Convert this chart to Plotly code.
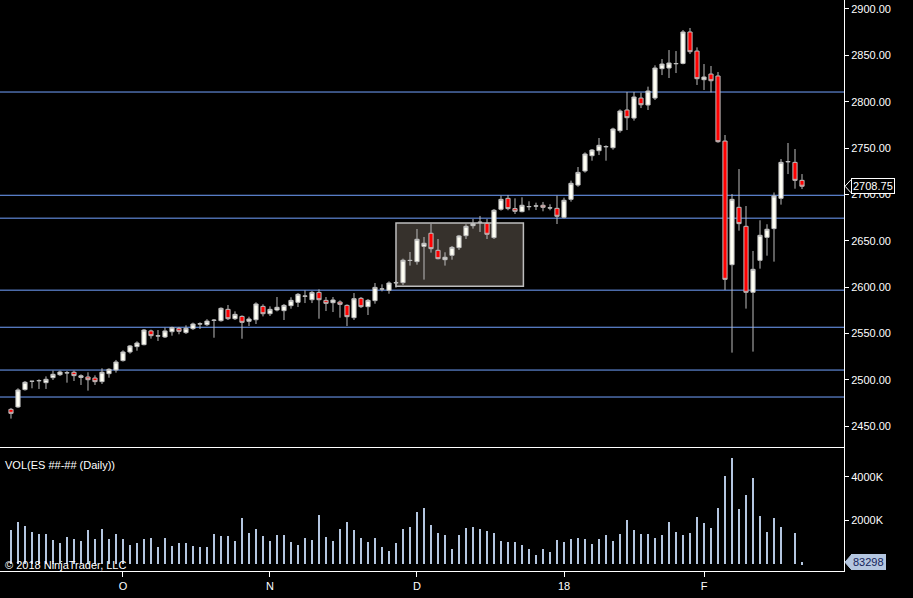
import plotly.graph_objects as go
from plotly.subplots import make_subplots

# Daily ES bars (Sep 2017 - Feb 2018)
opens = [2468.0, 2470.6, 2489.3, 2498.3, 2498.9, 2496.8, 2502.2, 2505.4, 2507.3, 2508.0,
         2502.5, 2502.9, 2501.8, 2497.9, 2506.5, 2510.5, 2520.6, 2529.9, 2535.7, 2537.8,
         2552.6, 2547.2, 2546.1, 2551.8, 2555.4, 2550.8, 2555.1, 2560.0, 2559.4, 2564.0,
         2563.7, 2575.9, 2565.8, 2568.3, 2563.0, 2564.7, 2579.1, 2571.2, 2575.2, 2574.5,
         2579.9, 2583.5, 2590.3, 2586.3, 2594.2, 2585.6, 2583.1, 2583.8, 2580.2, 2566.9,
         2587.8, 2578.8, 2585.3, 2597.8, 2596.4, 2604.7, 2604.7, 2628.8, 2627.4, 2643.9,
         2658.0, 2639.6, 2629.5, 2634.2, 2642.5, 2655.4, 2666.2, 2669.8, 2668.7, 2653.3,
         2683.9, 2695.7, 2684.6, 2681.3, 2686.7, 2687.5, 2688.2, 2685.3, 2684.9, 2675.2,
         2694.6, 2710.0, 2725.2, 2741.7, 2747.1, 2751.4, 2750.3, 2768.7, 2791.0, 2782.3,
         2803.9, 2796.4, 2803.9, 2835.6, 2836.3, 2841.0, 2841.3, 2875.2, 2854.6, 2823.7,
         2829.8, 2827.7, 2757.5, 2624.1, 2686.0, 2665.5, 2594.3, 2628.8, 2653.6, 2663.0,
         2695.7, 2735.4, 2734.5, 2715.1]
highs = [2469.5, 2490.7, 2498.6, 2498.6, 2500.4, 2503.6, 2509.8, 2509.8, 2509.4, 2509.8,
         2505.8, 2508.0, 2504.7, 2512.3, 2512.3, 2521.3, 2531.7, 2537.5, 2541.4, 2554.7,
         2554.0, 2553.6, 2556.2, 2557.2, 2556.9, 2558.7, 2561.6, 2561.9, 2565.3, 2565.5,
         2578.1, 2580.6, 2573.7, 2569.4, 2568.0, 2583.5, 2581.3, 2579.1, 2589.2, 2581.7,
         2588.9, 2593.5, 2596.4, 2595.7, 2597.5, 2589.2, 2589.2, 2585.6, 2581.3, 2593.5,
         2589.2, 2587.1, 2604.3, 2602.9, 2606.1, 2606.5, 2630.6, 2637.8, 2662.6, 2654.0,
         2668.0, 2651.8, 2637.5, 2644.3, 2656.2, 2667.7, 2673.4, 2676.7, 2673.4, 2684.2,
         2698.6, 2699.3, 2695.7, 2696.8, 2692.5, 2691.0, 2691.8, 2689.3, 2698.6, 2696.4,
         2714.8, 2729.5, 2745.3, 2748.9, 2760.8, 2752.9, 2771.9, 2791.7, 2810.4, 2810.4,
         2809.7, 2816.2, 2839.2, 2846.0, 2855.7, 2854.6, 2877.3, 2879.5, 2858.6, 2840.6,
         2838.5, 2832.0, 2764.0, 2700.4, 2727.3, 2687.4, 2638.9, 2672.0, 2667.7, 2702.0,
         2738.1, 2755.4, 2748.9, 2721.9]
lows = [2458.0, 2469.5, 2488.2, 2490.7, 2490.0, 2490.0, 2499.7, 2504.0, 2496.8, 2498.6,
        2494.3, 2488.2, 2494.3, 2495.4, 2502.2, 2507.6, 2519.5, 2528.1, 2531.3, 2537.1,
        2544.3, 2541.8, 2545.0, 2547.5, 2549.0, 2549.3, 2553.6, 2554.7, 2557.9, 2545.3,
        2562.6, 2564.4, 2564.4, 2544.2, 2557.9, 2560.1, 2568.3, 2568.7, 2573.7, 2564.4,
        2576.6, 2578.4, 2582.7, 2582.7, 2565.8, 2574.1, 2573.0, 2566.9, 2557.9, 2564.4,
        2577.3, 2569.8, 2582.0, 2595.3, 2592.8, 2599.3, 2602.2, 2623.1, 2624.1, 2608.0,
        2637.1, 2629.9, 2623.1, 2629.5, 2640.0, 2651.8, 2663.0, 2659.4, 2651.8, 2651.8,
        2682.4, 2682.8, 2678.8, 2680.6, 2682.8, 2683.1, 2681.7, 2682.8, 2668.0, 2674.1,
        2692.1, 2708.2, 2723.4, 2736.3, 2742.4, 2736.3, 2748.2, 2766.5, 2769.4, 2779.5,
        2793.1, 2791.0, 2801.8, 2828.7, 2825.5, 2830.9, 2840.3, 2851.4, 2818.0, 2812.6,
        2810.0, 2755.7, 2596.8, 2529.2, 2660.8, 2576.7, 2530.3, 2619.8, 2633.8, 2627.4,
        2688.9, 2721.9, 2706.1, 2705.7]
closes = [2463.7, 2488.9, 2497.2, 2498.3, 2499.0, 2500.4, 2505.8, 2508.3, 2507.5, 2504.4,
          2504.2, 2500.0, 2497.9, 2508.0, 2511.2, 2519.1, 2529.9, 2536.4, 2539.6, 2553.6,
          2547.5, 2547.3, 2552.6, 2556.2, 2552.2, 2555.4, 2560.1, 2560.3, 2563.2, 2564.2,
          2577.0, 2565.8, 2570.5, 2561.9, 2565.5, 2581.7, 2571.2, 2575.9, 2578.1, 2580.2,
          2585.6, 2592.1, 2590.1, 2594.2, 2586.3, 2582.4, 2586.0, 2581.3, 2568.0, 2587.4,
          2578.8, 2585.6, 2599.6, 2597.9, 2604.3, 2604.6, 2628.9, 2628.6, 2651.5, 2647.2,
          2641.4, 2630.6, 2632.1, 2642.8, 2655.1, 2665.5, 2668.4, 2669.9, 2656.9, 2682.8,
          2694.6, 2684.6, 2681.7, 2688.2, 2686.8, 2687.4, 2686.0, 2685.4, 2676.3, 2693.6,
          2711.9, 2723.7, 2743.5, 2747.8, 2752.9, 2751.5, 2770.5, 2789.9, 2782.7, 2805.0,
          2796.7, 2811.5, 2836.3, 2840.6, 2841.7, 2841.1, 2875.2, 2853.9, 2824.8, 2826.6,
          2822.6, 2756.8, 2608.3, 2694.6, 2668.4, 2594.3, 2619.1, 2655.8, 2662.3, 2698.2,
          2734.5, 2735.2, 2715.1, 2708.75]

# Volume in thousands of contracts
volume_k = [1548, 1947, 1763, 1487, 1395, 1395, 1119, 981, 1257, 1165,
            1073, 1579, 1165, 1625, 1165, 1395, 1165, 889, 981, 1165,
            1211, 797, 1211, 843, 981, 981, 843, 797, 797, 1395,
            1303, 1303, 1073, 2131, 1441, 1625, 1303, 1073, 1349, 1349,
            1027, 889, 1211, 1119, 2269, 1257, 1073, 1625, 1947, 1579,
            1211, 1027, 1211, 797, 613, 981, 1625, 1717, 2407, 2591,
            1809, 1441, 1349, 705, 1349, 1671, 1717, 1625, 1533, 1441,
            1073, 1027, 1027, 889, 705, 429, 705, 567, 1119, 1027,
            1165, 1211, 1165, 935, 1165, 1349, 1073, 1395, 2039, 1579,
            1395, 1395, 1211, 1349, 1947, 1487, 1349, 1441, 2177, 1901,
            1671, 2591, 4062, 4890, 2545, 3189, 3970, 2223, 1487, 2131,
            1717, 0, 1441, 83.298]

bars = list(range(len(closes)))

# month markers on the time axis (bar number -> label)
month_bars = [16, 37, 58, 79, 99]
month_labels = ["O", "N", "D", "18", "F"]

# drawn levels and the consolidation box
levels = [2810.4, 2699.0, 2674.3, 2596.6, 2556.6, 2510.4, 2481.3]
box_bars = [55.0, 73.2]
box_prices = [2600.9, 2669.1]

price_ticks = [2450, 2500, 2550, 2600, 2650, 2700, 2750, 2800, 2850, 2900]
vol_ticks = [2000, 4000]
vol_tick_text = ["2000K", "4000K"]

FONT = "Arial, Liberation Sans, sans-serif"

fig = make_subplots(rows=2, cols=1, shared_xaxes=True, vertical_spacing=0,
                    row_heights=[0.7828, 0.2172])

# levels and box go under the candles
for lv in levels:
    fig.add_shape(type="line", xref="x domain", yref="y", x0=0, x1=1, y0=lv, y1=lv,
                  line=dict(color="#72a2ff", width=1), layer="below")

fig.add_shape(type="rect", xref="x", yref="y",
              x0=box_bars[0], x1=box_bars[1], y0=box_prices[0], y1=box_prices[1],
              fillcolor="#36312c", line=dict(color="#bdbdbd", width=1.5), layer="below")

fig.add_trace(go.Candlestick(
    x=bars, open=opens, high=highs, low=lows, close=closes,
    increasing=dict(fillcolor="#fffff4", line=dict(color="#bcbcbc", width=1)),
    decreasing=dict(fillcolor="#ff0000", line=dict(color="#bcbcbc", width=1)),
    whiskerwidth=0, showlegend=False, hoverinfo="skip"), row=1, col=1)

fig.add_trace(go.Bar(x=bars, y=volume_k, width=0.3, marker_color="#b4c6e0",
                     marker_line_width=0, showlegend=False), row=2, col=1)

axis_font = dict(family=FONT, size=11, color="white")

fig.update_xaxes(range=[-1.57, 119.0], showgrid=False, zeroline=False,
                 showline=True, linecolor="white", linewidth=1,
                 rangeslider_visible=False)
fig.update_xaxes(showticklabels=False, ticks="", row=1, col=1)
fig.update_xaxes(tickmode="array", tickvals=month_bars, ticktext=month_labels,
                 ticks="outside", ticklen=5, tickcolor="white", tickfont=axis_font,
                 row=2, col=1)

fig.update_yaxes(side="right", showgrid=False, zeroline=False, showline=True,
                 linecolor="white", linewidth=1, ticks="outside", ticklen=4,
                 tickcolor="white", tickfont=axis_font)
fig.update_yaxes(range=[2427.4, 2909.7], tickvals=price_ticks, tickformat=".2f",
                 row=1, col=1)
fig.update_yaxes(range=[-322, 5380], tickvals=vol_ticks, ticktext=vol_tick_text,
                 row=2, col=1)

# last price / last volume markers on the axes
last_price = closes[-1]
fig.add_annotation(xref="paper", yref="y", x=1, y=last_price, xshift=7, xanchor="left",
                   text=f"{last_price:.2f}", showarrow=False, bgcolor="black",
                   bordercolor="white", borderwidth=1, borderpad=1, font=axis_font)
fig.add_shape(type="path", xref="paper", yref="y",
              path=f"M {1 + 7/844},{last_price + 7} L {1 + 1/844},{last_price} L {1 + 7/844},{last_price - 7}",
              line=dict(color="white", width=1))

last_vol = volume_k[-1]
fig.add_annotation(xref="paper", yref="y2", x=1, y=last_vol, xshift=7, xanchor="left",
                   text=f"{round(last_vol * 1000)}", showarrow=False, bgcolor="#b4c6e0",
                   bordercolor="#b4c6e0", borderwidth=1, borderpad=1,
                   font=dict(family=FONT, size=11, color="#13235a"))
fig.add_shape(type="path", xref="paper", yref="y2",
              path=f"M {1 + 7/844},{last_vol + 320} L {1 + 1/844},{last_vol} L {1 + 7/844},{last_vol - 320} Z",
              fillcolor="#b4c6e0", line=dict(color="#b4c6e0", width=1))

# panel captions
fig.add_annotation(xref="paper", yref="paper", x=0.004, y=0.1856, xanchor="left",
                   yanchor="middle", text="VOL(ES ##-## (Daily))", showarrow=False,
                   font=axis_font)
fig.add_annotation(xref="paper", yref="paper", x=0.003, y=0.0105, xanchor="left",
                   yanchor="middle", text="© 2018 NinjaTrader, LLC", showarrow=False,
                   font=axis_font)

fig.update_layout(
    width=913, height=598,
    margin=dict(l=0, r=69, t=0, b=27),
    paper_bgcolor="black", plot_bgcolor="black",
    font=dict(family=FONT, size=11, color="white"),
    bargap=0, boxgap=0.15, showlegend=False,
)

# drop the page's default body margin so the chart sits at the window's corner
fig.write_html("out.html", config={"displayModeBar": False},
               post_script="document.body.style.margin='0px';")
